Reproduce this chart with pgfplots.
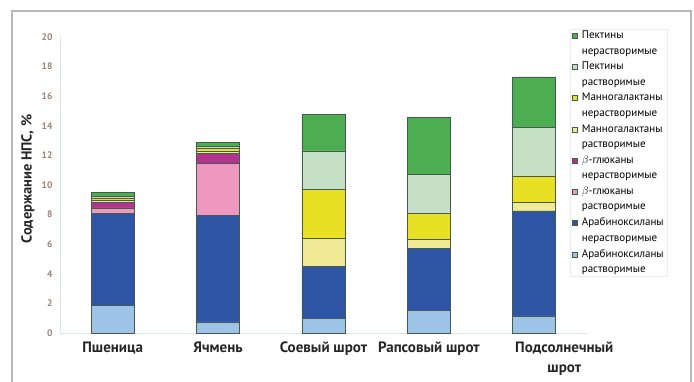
\documentclass[border=0pt]{standalone}
\usepackage{pgfplots}
\pgfplotsset{compat=1.18}
\usepackage{pgfplotstable}
\usepackage{fontspec}
\setmainfont{PT Sans}
\definecolor{axs}{RGB}{157,195,230}
\definecolor{axi}{RGB}{46,84,164}
\definecolor{bs}{RGB}{238,152,192}
\definecolor{bi}{RGB}{178,52,142}
\definecolor{mgs}{RGB}{240,234,150}
\definecolor{mgi}{RGB}{232,224,34}
\definecolor{ps}{RGB}{198,224,198}
\definecolor{pi}{RGB}{76,174,80}
\definecolor{edge}{RGB}{70,90,80}
\definecolor{ticktan}{RGB}{155,132,118}
\definecolor{axline}{RGB}{215,228,240}
\pgfplotstableread{
x AXs AXi Bs Bi MGs MGi Ps Pi
0 1.85 6.25 0.35 0.40 0.08 0.15 0.12 0.28
1 0.75 7.20 3.50 0.70 0.10 0.20 0.15 0.25
2 1.00 3.50 0 0 1.90 3.30 2.60 2.45
3 1.55 4.15 0 0 0.65 1.75 2.60 3.85
4 1.15 7.10 0 0 0.55 1.80 3.30 3.40
}\datatable
\begin{document}
\begin{tikzpicture}
\useasboundingbox (-60bp,-49bp) rectangle (634bp,333bp);
\draw[gray!55, line width=1.2bp] (-48bp,-60bp) -- (-48bp,322bp) -- (631bp,322bp) -- (631bp,-60bp);
\begin{axis}[
  at={(0,0)}, anchor=south west,
  scale only axis, width=527bp, height=296bp,
  xmin=-0.5, xmax=4.5, ymin=0, ymax=20,
  ybar stacked, bar width=43bp,
  axis x line*=bottom, axis y line*=left,
  axis line style={axline, line width=0.8bp},
  major tick length=0pt,
  ytick={0,2,...,20},
  xtick={0,1,2,3,4},
  xticklabels={Пшеница,Ячмень,Соевый шрот,Рапсовый шрот,{\hspace*{60bp}Подсолнечный\\\hspace*{60bp}шрот}},
  xticklabel style={font=\fontsize{15bp}{20bp}\selectfont\bfseries, align=center, anchor=north, yshift=-5bp, text=black!85},
  yticklabel style={font=\fontsize{9.5bp}{11bp}\selectfont\bfseries, text=ticktan, xshift=-4bp},
  /pgf/number format/assume math mode=true,
  ylabel={Содержание НПС, \%},
  ylabel style={font=\fontsize{14.5bp}{16bp}\selectfont\bfseries, text=black!85, at={(axis description cs:-0.0607,0.52)}, anchor=center},
  every axis plot/.append style={draw=edge, line width=0.7bp},
  reverse legend,
  legend style={at={(axis description cs:0.968,1.028)}, anchor=north west, draw=gray!15, fill=white,
    font=\fontsize{11bp}{15.5bp}\selectfont, cells={align=left, anchor=west}, row sep=6.5bp, inner sep=2bp,
    nodes={inner xsep=1bp, inner ysep=0bp}, /tikz/every even column/.append style={column sep=0bp}},
  legend image code/.code={\path[draw=none, fill=none] (0bp,0bp) rectangle (8.5bp,0bp); \draw[#1, line width=0.4bp, overlay] (0bp,5bp) rectangle (5bp,10bp);},
]
\addplot[fill=axs] table[x=x,y=AXs]{\datatable};
\addplot[fill=axi] table[x=x,y=AXi]{\datatable};
\addplot[fill=bs] table[x=x,y=Bs]{\datatable};
\addplot[fill=bi] table[x=x,y=Bi]{\datatable};
\addplot[fill=mgs] table[x=x,y=MGs]{\datatable};
\addplot[fill=mgi] table[x=x,y=MGi]{\datatable};
\addplot[fill=ps] table[x=x,y=Ps]{\datatable};
\addplot[fill=pi] table[x=x,y=Pi]{\datatable};
\legend{{Арабиноксиланы\\растворимые},{Арабиноксиланы\\нерастворимые},{$\beta$-глюканы\\растворимые},{$\beta$-глюканы\\нерастворимые},{Манногалактаны\\растворимые},{Манногалактаны\\нерастворимые},{Пектины\\растворимые},{Пектины\\нерастворимые}}
\end{axis}
\end{tikzpicture}
\end{document}
